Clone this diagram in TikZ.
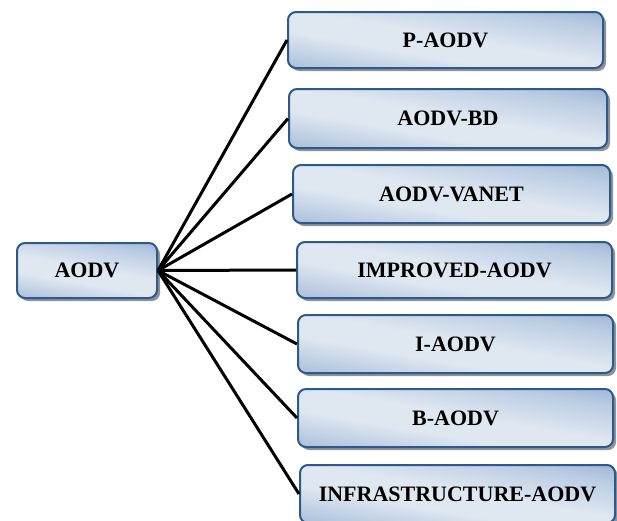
\documentclass[tikz,border=0pt]{standalone}
\usepackage{fontspec}
\setmainfont{Liberation Serif}
\usetikzlibrary{shadows}
\definecolor{boxline}{HTML}{2E5A8A}
\definecolor{boxdark}{HTML}{9DB6D7}
\definecolor{boxlight}{HTML}{DFE7F1}
\definecolor{shadowgray}{HTML}{8E939A}
% blue top edge, light middle band, softer blue bottom edge
\pgfdeclareverticalshading{protofill}{100bp}{
  color(0bp)=(boxdark!85!boxlight); color(20bp)=(boxdark!85!boxlight);
  color(40bp)=(boxlight); color(52bp)=(boxlight);
  color(70bp)=(boxdark!55!boxlight); color(80bp)=(boxdark); color(100bp)=(boxdark)}
\tikzset{
  proto/.style={
    draw=boxline, line width=2pt, rounded corners=8pt,
    shading=protofill, shading angle=-10,
    drop shadow={shadow xshift=3pt, shadow yshift=-3pt, fill=shadowgray, opacity=1},
    inner sep=0pt, align=center,
    font=\fontsize{22}{25}\selectfont\bfseries
  },
  link/.style={line width=3pt, black}
}
\begin{document}
\begin{tikzpicture}[x=1pt, y=-1pt]
  \useasboundingbox (0,0) rectangle (617,520);
  % root protocol
  \node[proto, minimum width=140pt, minimum height=55pt] (root) at (87,270.5) {AODV};
  % variants
  \node[proto, minimum width=315pt, minimum height=56pt] (p)     at (445.5,40)   {P-AODV};
  \node[proto, minimum width=318pt, minimum height=59pt] (bd)    at (448,118.5)  {AODV-BD};
  \node[proto, minimum width=317pt, minimum height=58pt] (vanet) at (451.5,194)  {AODV-VANET};
  \node[proto, minimum width=315pt, minimum height=56pt] (impr)  at (454.5,270)  {IMPROVED-AODV};
  \node[proto, minimum width=315pt, minimum height=58pt] (ia)    at (455.5,344)  {I-AODV};
  \node[proto, minimum width=315pt, minimum height=58pt] (ba)    at (455.5,418)  {B-AODV};
  \node[proto, minimum width=315pt, minimum height=58pt] (infra) at (457.5,494)  {INFRASTRUCTURE-AODV};
  % connectors fanning out from the root
  \foreach \t in {p,bd,vanet,impr,ia,ba,infra}
    \draw[link] (root.east) -- (\t.west);
\end{tikzpicture}
\end{document}
